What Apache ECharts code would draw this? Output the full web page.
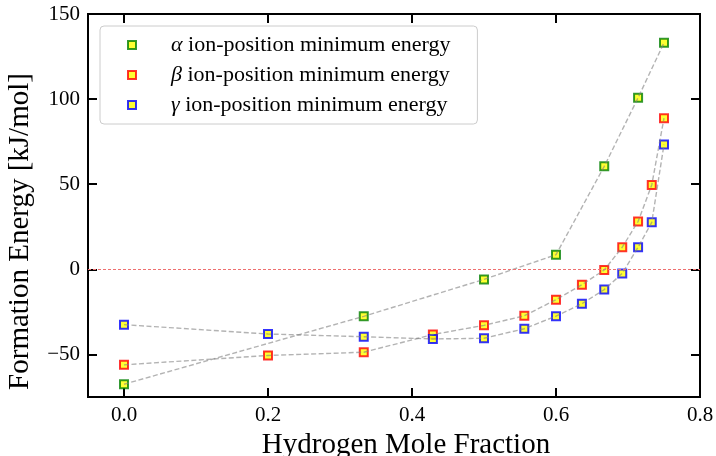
<!DOCTYPE html>
<html><head><meta charset="utf-8">
<script src="https://cdn.jsdelivr.net/npm/echarts@6/dist/echarts.min.js"></script>
<style>html,body{margin:0;padding:0;background:#fff;overflow:hidden}#chart{width:716px;height:456px}</style>
</head><body><div id="chart"></div>
<script>
// Hydrogen mole fractions sampled for the beta / gamma configurations
const fractions = [0, 0.2, 0.333, 0.429, 0.5, 0.556, 0.6, 0.636, 0.667, 0.692, 0.714, 0.733, 0.75];
// Fractions sampled for the alpha configuration
const alphaFractions = [0, 0.333, 0.5, 0.6, 0.667, 0.714, 0.75];
// Formation energies, kJ/mol
const alphaEnergy = [-67.5, -27.6, -5.9, 8.6, 60.5, 100.8, 133.1];
const betaEnergy = [-56.1, -50.6, -48.7, -38.3, -32.9, -27.3, -17.8, -9.0, -0.4, 13.0, 28.1, 49.6, 88.8];
const gammaEnergy = [-32.5, -38.0, -39.6, -40.9, -40.5, -34.9, -27.5, -20.2, -11.9, -2.4, 13.0, 27.6, 73.3];
const xTicks = [0, 0.2, 0.4, 0.6, 0.8];
const yTicks = [-50, 0, 50, 100, 150];
const zeroLevel = 0;
const seriesNames = ['α ion-position minimum energy', 'β ion-position minimum energy', 'γ ion-position minimum energy'];

const FONT = 'Liberation Serif';
const zip = (xs, ys) => xs.map((x, i) => [x, ys[i]]);
const groups = [
  { name: seriesNames[0], data: zip(alphaFractions, alphaEnergy), edge: '#008000' },
  { name: seriesNames[1], data: zip(fractions, betaEnergy), edge: '#ff0000' },
  { name: seriesNames[2], data: zip(fractions, gammaEnergy), edge: '#0000ff' }
];

const frameLine = { show: true, onZero: false, lineStyle: { color: '#000', width: 2 } };
const inTick = (vals) => ({ show: true, inside: true, length: 9, lineStyle: { color: '#000', width: 2 }, customValues: vals });
const minus = v => (v < 0 ? '\u2212' + Math.abs(v) : String(v));

const series = [];
groups.forEach((g) => {
  series.push({
    name: g.name, type: 'scatter', data: g.data, z: 3,
    symbol: 'rect', symbolSize: 8, silent: true,
    itemStyle: { color: '#ffff00', borderColor: g.edge, borderWidth: 2 }
  });
});
groups.forEach((g, i) => {
  // dashed guide through each set of points, drawn above the markers
  series.push({
    name: 'guide ' + i, type: 'line', data: g.data, z: 4,
    showSymbol: false, symbol: 'none', silent: true,
    lineStyle: { color: 'rgba(128,128,128,0.6)', width: 1.4, type: [5, 2.5] }
  });
});
// zero-energy reference line across the whole plot
series.push({
  name: 'zero', type: 'line', data: [], z: 2, silent: true,
  markLine: {
    silent: true, symbol: ['none', 'none'], label: { show: false }, animation: false,
    lineStyle: { color: '#ee7070', opacity: 1, width: 1.2, type: [3, 2] },
    data: [{ yAxis: zeroLevel }]
  }
});

const chart = echarts.init(document.getElementById('chart'), null, { renderer: 'canvas' });
chart.setOption({
  animation: false,
  backgroundColor: '#fff',
  grid: {
    left: 88, right: 16, top: 14, bottom: 59, containLabel: false, outerBoundsMode: 'none',
    show: true, borderColor: '#000', borderWidth: 2, backgroundColor: 'transparent'
  },
  xAxis: [
    {
      type: 'value', min: -0.05, max: 0.8, position: 'bottom',
      axisLine: frameLine, axisTick: inTick(xTicks), splitLine: { show: false },
      axisLabel: { customValues: xTicks, formatter: v => v.toFixed(1), fontFamily: FONT, fontSize: 21, color: '#000', margin: 8 },
      name: 'Hydrogen Mole Fraction', nameLocation: 'middle', nameGap: 24,
      nameTextStyle: { fontFamily: FONT, fontSize: 29, color: '#000', padding: [0, 0, 0, 24] }
    },
    {
      type: 'value', min: -0.05, max: 0.8, position: 'top',
      axisLine: frameLine, axisTick: inTick(xTicks), splitLine: { show: false }, axisLabel: { show: false }
    }
  ],
  yAxis: [
    {
      type: 'value', min: -75, max: 150, position: 'left',
      axisLine: frameLine, axisTick: inTick(yTicks), splitLine: { show: false },
      axisLabel: { customValues: yTicks, formatter: minus, fontFamily: FONT, fontSize: 21, color: '#000', margin: 8 },
      name: 'Formation Energy [kJ/mol]', nameLocation: 'middle', nameGap: 53, nameRotate: 90,
      nameTextStyle: { fontFamily: FONT, fontSize: 29, color: '#000', padding: [0, 52, 0, 0] }
    },
    {
      type: 'value', min: -75, max: 150, position: 'right',
      axisLine: frameLine, axisTick: inTick(yTicks), splitLine: { show: false }, axisLabel: { show: false }
    }
  ],
  legend: {
    data: seriesNames, orient: 'vertical', left: 100, top: 26,
    backgroundColor: 'rgba(255,255,255,0.8)', borderColor: '#cccccc', borderWidth: 1, borderRadius: 4,
    padding: [8, 27, 8, 27], itemGap: 8, itemWidth: 8, itemHeight: 8, icon: 'rect',
    selectedMode: false,
    formatter: name => '{sp|}{g|' + name.charAt(0) + '} ' + name.slice(2),
    textStyle: {
      fontFamily: FONT, fontSize: 22, color: '#000', lineHeight: 22,
      rich: { sp: { width: 30 }, g: { fontFamily: FONT, fontSize: 22, fontStyle: 'italic', color: '#000' } }
    }
  },
  series
});
</script></body></html>
